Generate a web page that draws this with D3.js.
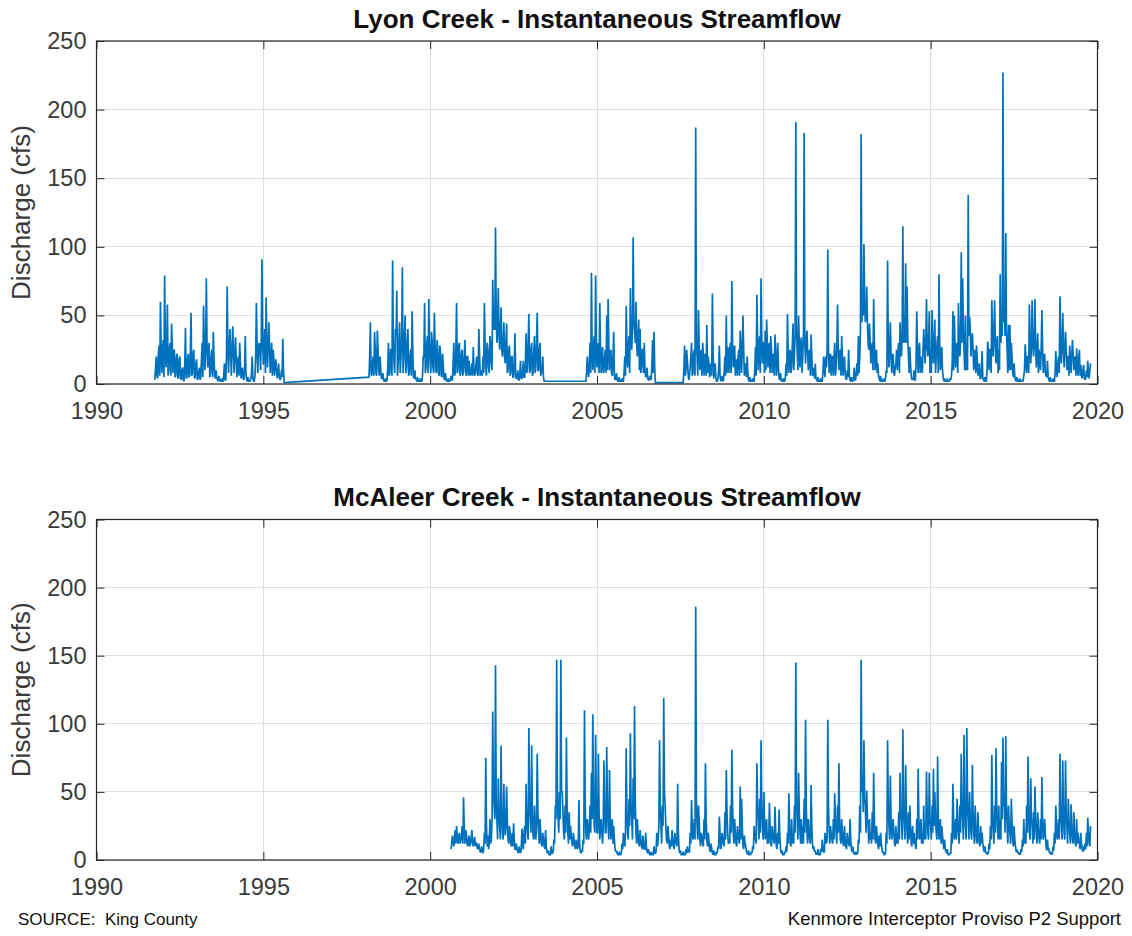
<!DOCTYPE html>
<html>
<head>
<meta charset="utf-8">
<script src="https://cdn.jsdelivr.net/npm/d3@7"></script>
<style>
  html, body { margin: 0; padding: 0; background: #ffffff; }
  svg { display: block; font-family: "Liberation Sans", Arial, Helvetica, sans-serif; }
</style>
</head>
<body>
<svg id="chart" width="1132" height="936"></svg>
<script>
// ---------------- data ----------------
// Each record segment: values every half month (sampleStep) from its start year,
// plus the readings that fall between those samples (at +1/48 year).
const sampleStep = 1 / 24;
const xTicks = [1990, 1995, 2000, 2005, 2010, 2015, 2020];
const yTicks = [0, 50, 100, 150, 200, 250];
const titles = ["Lyon Creek - Instantaneous Streamflow", "McAleer Creek - Instantaneous Streamflow"];
const yLabel = "Discharge (cfs)";
const sourceNote = "SOURCE:  King County";
const projectNote = "Kenmore Interceptor Proviso P2 Support";

// ----- Lyon Creek (cfs) -----
const lyonStarts = [1991.75, 1998.1667, 2004.6667, 2007.5833];
const lyon1991 = [
  3,20,4,28,60,8,32,79,12,58,10,30,
  44,8,25,6,22,5,20,3,12,2,41,4,
  22,6,52,8,25,5,18,4,12,5,30,57,
  10,77,12,30,8,25,38,6,10,3,6,2,
  4,2,15,3,71,8,40,6,42,8,34,5,
  20,30,4,12,3,35,3,5,2,4,20,2,
  6,59,8,30,10,91,14,40,63,12,45,8,
  30,25,6,18,4,15,3,10,33,1];
const lyon1991Mid = [
  12,6,22,6,25,25,5,30,28,6,26,6,
  28,24,5,20,4,18,4,10,3,15,5,18,
  5,24,6,22,4,15,3,8,3,18,5,28,
  24,30,25,5,20,5,20,4,4,2,3,2,
  2,6,3,20,25,28,22,25,24,22,18,15,
  6,15,8,4,10,8,2,2,2,8,4,2,
  20,30,25,28,30,35,30,8,30,28,25,22,
  6,20,12,10,8,5,4,5,10];
const lyon1998 = [
  5,45,6,20,38,8,39,10,20,4,8,2,
  4,3,30,8,25,90,15,40,68,15,45,20,
  85,18,50,12,40,8,25,53,5,10,3,5,
  2,4,2,20,59,12,35,62,15,38,12,52,
  10,32,8,28,6,22,4,8,2,4,2,6,
  3,30,8,59,10,30,8,25,10,32,6,20,
  17,6,15,27,6,15,8,40,6,10,20,59,
  10,30,12,35,15,76,40,114,30,70,25,56,
  20,45,15,44,10,28,8,20,5,37,4,10,
  3,17,4,17,5,37,12,51,10,30,8,35,
  12,52,10,30,8,20,2];
const lyon1998Mid = [
  20,8,15,6,25,6,25,6,10,4,3,2,
  2,12,6,25,6,30,8,35,6,30,8,35,
  8,35,8,30,6,20,6,25,4,4,2,2,
  2,2,6,20,8,28,8,30,8,30,8,30,
  8,25,6,22,5,12,3,3,2,2,3,3,
  15,6,25,8,28,6,22,6,20,8,20,6,
  8,10,6,10,8,20,6,22,8,6,8,30,
  6,25,8,30,10,45,40,50,40,35,40,25,
  30,20,30,8,25,6,20,5,15,6,4,3,
  8,4,8,5,15,8,30,8,25,6,22,8,
  30,10,25,6,10,5];
const lyon2004 = [
  2,20,5,30,81,10,35,79,12,30,59,8,
  27,10,25,50,62,10,25,6,38,3,8,2,
  5,2,4,2,20,57,12,35,70,25,107,40,
  60,20,47,40,12,25,30,5,12,3,6,3,
  32,38,1];
const lyon2004Mid = [
  8,10,15,8,25,28,8,30,25,8,25,22,
  8,20,8,10,28,20,8,20,6,4,3,2,
  2,2,2,8,6,30,25,8,30,40,45,30,
  30,35,10,8,25,8,10,6,4,3,4,15,
  8,12];
const lyon2007 = [
  1,28,10,17,3,12,30,8,25,187,20,54,
  10,25,30,6,22,43,20,5,15,66,4,15,
  2,4,28,2,6,3,20,50,27,8,30,75,
  12,28,15,6,25,39,8,50,6,15,20,3,
  5,2,4,2,27,65,10,35,77,15,30,39,
  47,12,30,35,8,22,36,6,30,4,8,2,
  4,2,15,51,8,25,12,44,20,191,25,50,
  12,34,20,183,15,39,10,25,36,6,12,15,
  3,5,2,4,2,20,5,12,98,8,22,20,
  6,30,12,58,10,25,35,6,20,4,10,25,
  3,5,2,12,3,15,35,20,182,60,102,45,
  71,30,44,15,30,62,10,25,15,4,6,2,
  4,2,10,90,12,45,8,22,6,15,10,30,
  45,20,115,50,88,71,20,27,6,4,10,3,
  53,8,30,15,8,40,15,62,20,53,25,54,
  15,47,20,35,80,10,27,5,4,2,4,2,
  4,6,53,50,12,30,59,20,96,77,25,50,
  30,138,49,20,37,10,25,28,6,15,4,24,
  3,5,2,31,10,25,61,20,61,15,35,25,
  80,40,227,60,110,25,43,43,30,8,15,3,
  5,2,4,2,3,6,29,8,20,58,15,61,
  20,62,12,37,25,10,54,8,22,6,17,3,
  5,2,4,2,24,5,20,64,15,52,12,38,
  10,20,28,8,32,10,20,26,6,25,14,4,
  14,3,10,17,4,15];
const lyon2007Mid = [
  10,6,25,8,6,20,6,22,6,30,6,25,
  22,6,22,20,6,8,15,10,6,25,10,5,
  2,10,6,3,2,10,6,8,25,25,8,30,
  25,6,18,20,6,28,25,25,12,5,8,2,
  2,2,2,10,6,30,30,8,35,30,8,10,
  30,28,8,25,20,6,25,10,12,3,3,2,
  2,5,6,25,22,8,28,10,35,40,10,30,
  30,8,35,30,30,25,22,6,20,8,4,4,
  2,2,2,2,8,12,20,25,25,20,6,20,
  20,6,25,28,22,6,20,15,8,3,5,6,
  2,2,4,3,8,6,8,40,45,50,60,50,
  45,25,30,25,10,30,22,8,6,2,2,2,
  2,4,8,30,25,20,20,8,12,25,25,8,
  30,35,30,30,30,35,8,15,3,3,3,15,
  25,25,8,20,25,28,30,28,30,8,8,30,
  30,8,28,8,30,20,10,2,2,2,2,2,
  3,15,10,30,28,8,30,30,30,40,10,10,
  10,35,40,30,25,22,8,18,12,4,10,4,
  2,2,8,25,25,8,35,35,30,30,8,10,
  30,35,45,35,40,8,10,10,20,5,6,2,
  2,2,2,2,2,10,20,20,8,28,28,30,
  30,28,25,8,20,25,25,20,8,5,5,2,
  2,2,2,8,10,15,8,30,25,28,25,25,
  20,6,20,20,22,18,6,15,18,6,6,10,
  5,4,5,8,10];

// ----- McAleer Creek (cfs) -----
const mcaleerStarts = [2000.625];
const mcaleer2000 = [
  8,18,10,22,25,12,20,14,25,46,12,20,
  10,18,12,22,10,17,13,8,12,6,10,5,
  20,75,10,8,30,15,109,40,143,30,60,25,
  84,20,56,18,54,15,25,12,20,27,8,12,
  6,10,5,23,8,25,56,20,97,30,84,18,
  40,15,78,20,30,12,20,10,22,6,7,4,
  10,5,15,40,147,30,50,147,50,20,40,90,
  20,35,25,12,20,10,15,8,44,6,7,15,
  110,20,30,15,40,64,107,25,92,20,78,15,
  30,12,73,20,83,25,66,15,30,25,8,7,
  4,6,4,12,20,10,82,20,45,93,30,60,
  113,20,30,12,22,10,18,8,20,6,8,4,
  6,4,10,5,20,15,88,25,40,119,40,15,
  25,10,15,22,10,20,12,56,8,7,4,6,
  4,8,10,6,20,44,15,30,186,25,40,15,
  20,12,30,71,15,20,8,12,5,7,4,6,
  10,32,8,20,12,35,66,20,15,40,81,20,
  30,12,25,15,54,45,10,18,10,5,7,4,
  6,10,25,15,71,30,45,88,25,50,15,30,
  20,42,12,25,15,39,10,20,37,8,7,4,
  6,10,20,49,12,30,20,40,145,30,64,20,
  30,25,45,103,20,30,15,55,12,10,7,5,
  8,4,8,15,6,20,12,103,20,25,15,30,
  49,20,40,71,15,30,12,25,10,20,12,30,
  8,10,5,6,5,15,40,147,60,88,40,51,
  25,30,20,35,64,15,25,12,18,20,8,6,
  4,20,88,25,62,15,30,12,25,20,35,64,
  30,96,25,70,20,35,40,12,25,20,10,30,
  67,15,30,20,40,25,65,20,64,25,40,67,
  50,20,76,15,30,25,12,15,6,8,4,5,
  20,56,15,30,45,20,40,78,30,92,25,97,
  30,50,20,70,20,40,15,35,12,25,20,8,
  10,6,5,12,25,77,20,40,82,25,40,30,
  72,90,40,91,25,40,20,45,15,25,10,8,
  6,5,8,15,30,20,40,76,20,60,25,35,
  54,20,35,15,30,61,15,30,10,15,8,6,
  5,10,20,40,15,30,78,25,73,20,73,25,
  45,20,41,15,35,12,30,20,12,20,8,10,
  12,20,31,12,25];
const mcaleer2000Mid = [
  12,14,16,12,18,16,12,18,12,25,22,12,
  15,10,16,12,14,10,12,9,8,6,7,8,
  12,25,18,12,12,30,50,30,40,15,35,15,
  35,15,30,25,28,12,20,10,10,15,8,8,
  5,6,8,15,20,12,30,15,40,20,35,15,
  25,25,35,12,20,10,15,8,10,5,4,4,
  5,6,12,30,50,20,30,50,35,15,20,40,
  12,15,18,10,15,8,12,10,12,5,6,12,
  40,15,22,25,20,30,45,20,40,20,35,25,
  20,25,35,20,40,15,30,25,12,15,6,5,
  4,4,5,8,15,20,35,15,25,40,15,30,
  45,12,20,10,15,8,12,8,10,5,5,4,
  4,4,5,6,10,25,40,12,25,50,25,12,
  18,8,10,15,8,14,10,20,5,4,4,4,
  4,5,6,6,12,25,22,15,45,15,28,10,
  16,10,15,30,10,14,6,8,4,4,4,5,
  8,20,10,15,10,15,35,12,12,20,40,12,
  20,10,18,12,15,25,8,12,6,4,4,4,
  5,8,18,12,40,15,20,40,15,30,25,12,
  12,25,10,18,12,22,8,12,18,5,4,4,
  5,6,12,25,10,12,12,20,45,15,35,12,
  12,12,20,40,12,20,12,25,8,6,4,4,
  4,4,6,8,6,15,15,40,12,18,12,15,
  30,12,20,30,12,20,10,15,8,14,10,15,
  6,5,4,4,5,12,20,50,35,45,20,30,
  12,15,12,15,30,12,18,8,10,12,5,4,
  5,12,40,15,30,22,20,10,12,12,15,30,
  15,40,15,35,12,15,25,10,12,14,8,15,
  30,22,12,12,15,15,35,15,30,15,20,25,
  30,15,30,22,12,18,8,8,5,4,4,5,
  12,30,22,15,28,12,20,40,15,40,15,45,
  15,30,15,35,12,25,12,20,10,12,12,6,
  5,4,5,8,15,35,12,20,40,15,15,15,
  30,40,20,40,12,25,12,28,10,15,6,5,
  4,4,6,10,12,12,20,35,15,30,12,15,
  30,12,22,12,15,30,20,18,7,8,5,4,
  4,7,12,25,20,15,35,15,35,15,35,12,
  28,12,25,12,20,10,12,14,8,12,6,7,
  8,10,20,10];

// ---------------- layout ----------------
const W = 1132, H = 936;
const panels = [
  { title: titles[0], starts: lyonStarts,
    segs: [lyon1991, lyon1998, lyon2004, lyon2007],
    mids: [lyon1991Mid, lyon1998Mid, lyon2004Mid, lyon2007Mid],
    top: 41, bottom: 384, titleY: 28 },
  { title: titles[1], starts: mcaleerStarts,
    segs: [mcaleer2000], mids: [mcaleer2000Mid],
    top: 519.5, bottom: 860, titleY: 506 }
];
const left = 96.5, right = 1097.5;
const axisColor = "#262626";
const lineColor = "#0072BD";
const gridColor = "#dedede";

const svg = d3.select("#chart");
svg.append("rect").attr("width", W).attr("height", H).attr("fill", "#fff");

function toPoints(starts, segs, mids) {
  const pts = [];
  segs.forEach((vals, s) => {
    vals.forEach((v, i) => {
      pts.push([starts[s] + i * sampleStep, v]);
      if (i < vals.length - 1 && mids[s][i] !== undefined)
        pts.push([starts[s] + (i + 0.5) * sampleStep, mids[s][i]]);
    });
  });
  return pts;
}

panels.forEach((p, pi) => {
  const x = d3.scaleLinear().domain([1990, 2020]).range([left, right]);
  const y = d3.scaleLinear().domain([0, 250]).range([p.bottom, p.top]);
  const g = svg.append("g");

  // grid
  g.append("g").selectAll("line").data(xTicks).join("line")
    .attr("x1", d => x(d)).attr("x2", d => x(d))
    .attr("y1", p.top).attr("y2", p.bottom)
    .attr("stroke", gridColor).attr("stroke-width", 1).attr("shape-rendering", "crispEdges");
  g.append("g").selectAll("line").data(yTicks).join("line")
    .attr("x1", left).attr("x2", right)
    .attr("y1", d => y(d)).attr("y2", d => y(d))
    .attr("stroke", gridColor).attr("stroke-width", 1).attr("shape-rendering", "crispEdges");

  // clip + data line
  const clipId = "clip" + pi;
  svg.append("defs").append("clipPath").attr("id", clipId)
    .append("rect").attr("x", left).attr("y", p.top).attr("width", right - left).attr("height", p.bottom - p.top);
  const pts = toPoints(p.starts, p.segs, p.mids);
  const line = d3.line().x(d => x(d[0])).y(d => y(d[1]));
  g.append("path").datum(pts)
    .attr("d", line)
    .attr("clip-path", `url(#${clipId})`)
    .attr("fill", "none")
    .attr("stroke", lineColor)
    .attr("stroke-width", 1.7)
    .attr("stroke-linejoin", "miter")
    .attr("stroke-miterlimit", 1.5);

  // axes
  const fontSize = 23.5;
  const xa = g.append("g").attr("transform", `translate(0,${p.bottom})`)
    .call(d3.axisBottom(x).tickValues(xTicks).tickFormat(d3.format("d")).tickSize(-8).tickPadding(18));
  const xt = g.append("g").attr("transform", `translate(0,${p.top})`)
    .call(d3.axisTop(x).tickValues(xTicks).tickFormat("").tickSize(-8));
  const ya = g.append("g").attr("transform", `translate(${left},0)`)
    .call(d3.axisLeft(y).tickValues(yTicks).tickFormat(d3.format("d")).tickSize(-8).tickPadding(10));
  const yr = g.append("g").attr("transform", `translate(${right},0)`)
    .call(d3.axisRight(y).tickValues(yTicks).tickFormat("").tickSize(-8));
  [xa, xt, ya, yr].forEach(a => {
    a.select(".domain").remove();
    a.selectAll(".tick line").attr("stroke", axisColor).attr("stroke-width", 1);
    a.selectAll(".tick text").attr("fill", "#3a3a3a").attr("font-size", fontSize)
      .attr("font-family", '"Liberation Sans", Arial, sans-serif');
  });

  // box
  g.append("rect").attr("x", left).attr("y", p.top)
    .attr("width", right - left).attr("height", p.bottom - p.top)
    .attr("fill", "none").attr("stroke", axisColor).attr("stroke-width", 1.2);

  // title
  g.append("text").attr("x", (left + right) / 2).attr("y", p.titleY)
    .attr("text-anchor", "middle").attr("font-size", 26).attr("font-weight", "bold")
    .attr("fill", "#111").text(p.title);

  // y label
  g.append("text")
    .attr("transform", `translate(30,${(p.top + p.bottom) / 2}) rotate(-90)`)
    .attr("text-anchor", "middle").attr("font-size", 26).attr("fill", "#3a3a3a")
    .text(yLabel);
});

// footnotes
svg.append("text").attr("x", 18).attr("y", 925).attr("font-size", 17)
  .attr("fill", "#111").attr("xml:space", "preserve").style("white-space", "pre").text(sourceNote);
svg.append("text").attr("x", 1121).attr("y", 925).attr("text-anchor", "end").attr("font-size", 18.5)
  .attr("fill", "#111").text(projectNote);
</script>
</body>
</html>
